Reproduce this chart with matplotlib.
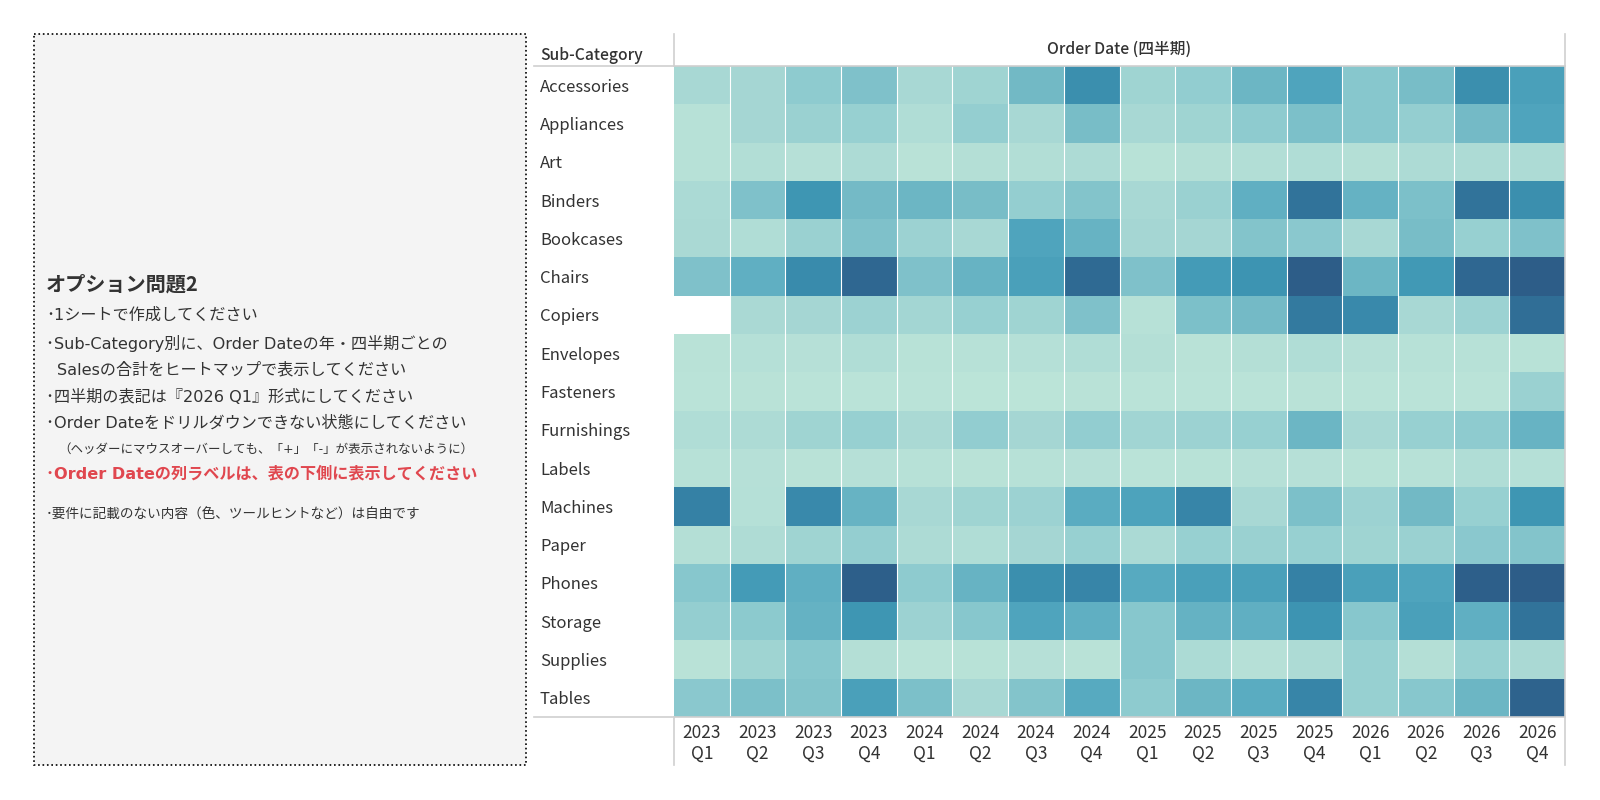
import numpy as np
import matplotlib.pyplot as plt
from matplotlib.colors import LinearSegmentedColormap
from matplotlib.patches import Rectangle
from matplotlib.lines import Line2D

plt.rcParams['font.family'] = ['Noto Sans CJK JP', 'DejaVu Sans']

# 行・列
sub_categories = ['Accessories', 'Appliances', 'Art', 'Binders', 'Bookcases', 'Chairs',
                  'Copiers', 'Envelopes', 'Fasteners', 'Furnishings', 'Labels', 'Machines',
                  'Paper', 'Phones', 'Storage', 'Supplies', 'Tables']
quarter_labels = ['2023\nQ1', '2023\nQ2', '2023\nQ3', '2023\nQ4',
                  '2024\nQ1', '2024\nQ2', '2024\nQ3', '2024\nQ4',
                  '2025\nQ1', '2025\nQ2', '2025\nQ3', '2025\nQ4',
                  '2026\nQ1', '2026\nQ2', '2026\nQ3', '2026\nQ4']

# Sales（相対値, 0=最小 100=最大）  画像から読み取り
accessories = [20, 22, 35, 42, 20, 25, 48, 75, 25, 33, 50, 62, 38, 45, 75, 65]
appliances  = [5, 22, 28, 30, 12, 32, 20, 45, 20, 25, 35, 43, 38, 32, 47, 62]
art         = [5, 10, 6, 15, 3, 8, 10, 15, 4, 8, 10, 12, 8, 15, 15, 15]
binders     = [17, 42, 72, 47, 50, 45, 32, 40, 20, 28, 55, 88, 53, 43, 88, 75]
bookcases   = [18, 12, 28, 42, 27, 20, 62, 52, 22, 22, 40, 37, 20, 45, 30, 42]
chairs      = [42, 55, 77, 93, 42, 52, 65, 92, 42, 68, 73, 98, 50, 70, 93, 98]
copiers     = [np.nan, 18, 22, 27, 23, 30, 25, 42, 5, 43, 47, 85, 78, 20, 27, 90]
envelopes   = [3, 7, 6, 12, 4, 5, 7, 12, 8, 3, 8, 12, 6, 5, 5, 4]
fasteners   = [2, 3, 2, 2, 2, 1, 1, 3, 2, 2, 2, 3, 2, 2, 2, 28]
furnishings = [12, 15, 25, 30, 18, 33, 22, 33, 24, 27, 30, 50, 20, 30, 35, 52]
labels      = [5, 6, 3, 6, 5, 3, 5, 6, 2, 4, 6, 6, 4, 5, 12, 7]
machines    = [82, 7, 78, 52, 20, 25, 27, 57, 63, 80, 20, 43, 27, 48, 30, 72]
paper       = [8, 13, 25, 32, 15, 12, 22, 30, 17, 30, 28, 30, 25, 28, 37, 40]
phones      = [38, 68, 55, 97, 35, 52, 75, 80, 58, 65, 65, 82, 65, 62, 97, 98]
storage     = [32, 36, 53, 72, 27, 38, 62, 55, 38, 53, 55, 73, 38, 65, 55, 88]
supplies    = [3, 25, 38, 8, 2, 4, 6, 3, 38, 16, 6, 15, 30, 8, 30, 18]
tables      = [37, 43, 40, 65, 43, 20, 40, 58, 35, 50, 57, 80, 30, 38, 50, 95]

sales = np.array([accessories, appliances, art, binders, bookcases, chairs, copiers,
                  envelopes, fasteners, furnishings, labels, machines, paper, phones,
                  storage, supplies, tables], dtype=float)

# Tableau Blue-Teal 風
cmap = LinearSegmentedColormap.from_list(
    'blue_teal', [(0.0, '#bce4d8'), (0.2, '#a8d8d4'), (0.35, '#8ecbcf'),
                  (0.48, '#72b9c5'), (0.6, '#52a7bf'), (0.72, '#3e96b3'),
                  (0.82, '#3581a5'), (0.92, '#2f6a93'), (1.0, '#2c5985')])
cmap.set_bad('white')

W, H = 1600, 800
fig = plt.figure(figsize=(16, 8), dpi=100)
fig.patch.set_facecolor('white')

# ヒートマップ
x0, x1, y0, y1 = 674, 1565, 66, 717
ax = fig.add_axes([x0 / W, 1 - y1 / H, (x1 - x0) / W, (y1 - y0) / H])
ax.pcolormesh(np.ma.masked_invalid(sales), cmap=cmap, vmin=0, vmax=100)
ax.set_xlim(0, len(quarter_labels))
ax.set_ylim(len(sub_categories), 0)
ax.vlines(np.arange(1, len(quarter_labels)), 0, len(sub_categories), color='white', lw=0.8)
for s in ax.spines.values():
    s.set_visible(False)

ax.set_yticks(np.arange(len(sub_categories)) + 0.5, sub_categories)
for lbl in ax.get_yticklabels():
    lbl.set_horizontalalignment('left')
ax.tick_params(axis='y', length=0, pad=(x0 - 540) * 0.72, labelsize=12, labelcolor='#333333')

ax.set_xticks(np.arange(len(quarter_labels)) + 0.5, quarter_labels)
for lbl in ax.get_xticklabels():
    lbl.set_linespacing(1.2)
ax.tick_params(axis='x', length=0, pad=5, labelsize=12.5, labelcolor='#333333')

# 枠線・テキスト
ov = fig.add_axes([0, 0, 1, 1], zorder=5)
ov.set_xlim(0, W)
ov.set_ylim(H, 0)
ov.axis('off')
ov.patch.set_alpha(0)

grid_c = '#cfcfcf'
ov.add_line(Line2D([534, x1], [y0, y0], color=grid_c, lw=1.2))
ov.add_line(Line2D([534, x1], [y1, y1], color=grid_c, lw=1.2))
ov.add_line(Line2D([x0, x0], [34, y0], color=grid_c, lw=1.2))
ov.add_line(Line2D([x0, x0], [y1, 765], color=grid_c, lw=1.2))
ov.add_line(Line2D([x1, x1], [34, 765], color=grid_c, lw=1.2))

ov.text(540, 56, 'Sub-Category', fontsize=11.3, color='#333333', fontweight='medium',
        va='center', ha='left')
ov.text((x0 + x1) / 2, 49, 'Order Date (四半期)', fontsize=11.3, color='#333333',
        fontweight='medium', va='center', ha='center')

# 左側の問題文パネル（英字は幅の広い DejaVu Sans）
ov.add_patch(Rectangle((34, 34), 492, 731, facecolor='#f4f4f4', edgecolor='black',
                       lw=1.2, linestyle=':'))
tc = '#333333'
panel_font = ['DejaVu Sans', 'Noto Sans CJK JP']
ov.text(46, 284, 'オプション問題2', fontsize=14.5, fontweight='bold', color=tc, va='center')
ov.text(46, 315, '･1シートで作成してください', fontsize=11.6, color=tc, va='center',
        family=panel_font)
ov.text(46, 344, '･Sub-Category別に、Order Dateの年・四半期ごとの', fontsize=11.6, color=tc,
        va='center', family=panel_font)
ov.text(57, 370, 'Salesの合計をヒートマップで表示してください', fontsize=11.6, color=tc,
        va='center', family=panel_font)
ov.text(46, 397, '･四半期の表記は『2026 Q1』形式にしてください', fontsize=11.6, color=tc,
        va='center', family=panel_font)
ov.text(46, 423, '･Order Dateをドリルダウンできない状態にしてください', fontsize=11.6, color=tc,
        va='center', family=panel_font)
ov.text(58, 449, '（ヘッダーにマウスオーバーしても、「+」「-」が表示されないように）', fontsize=9,
        color=tc, va='center', family=panel_font)
ov.text(46, 474, '･Order Dateの列ラベルは、表の下側に表示してください', fontsize=11.6,
        fontweight='bold', color='#e0474f', va='center', family=panel_font)
ov.text(46, 515, '･要件に記載のない内容（色、ツールヒントなど）は自由です', fontsize=9.8,
        color=tc, va='center', family=panel_font)

fig.savefig('out.png', dpi=100)
